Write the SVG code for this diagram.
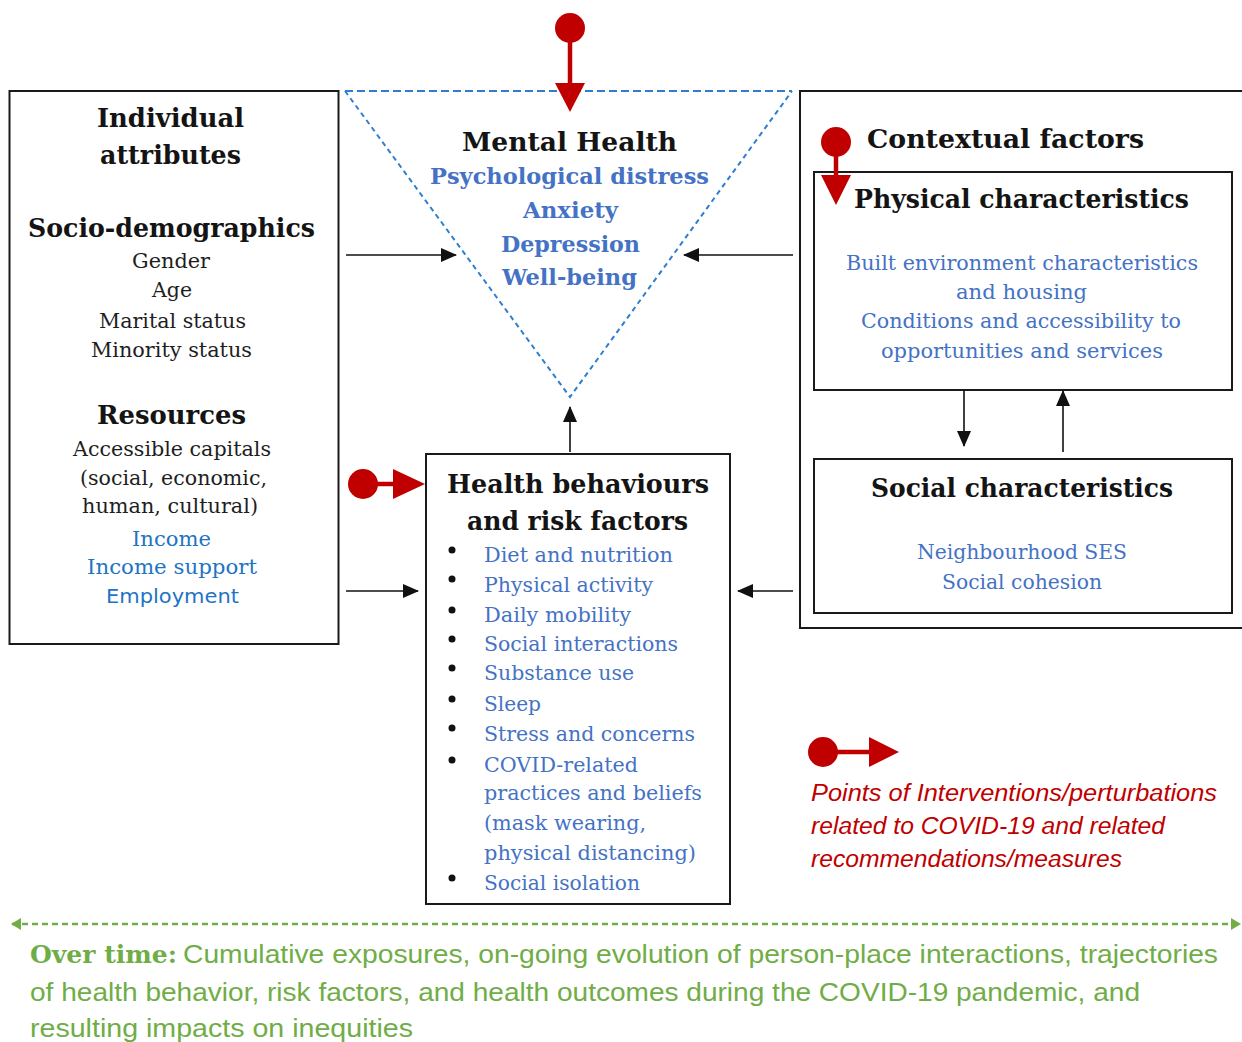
<svg xmlns="http://www.w3.org/2000/svg" width="1242" height="1042" viewBox="0 0 1242 1042">
<style>
.box{fill:none;stroke:#1a1a1a;stroke-width:2}
.h{font-family:"DejaVu Serif",serif;font-weight:bold;font-size:26px;fill:#141414}
.r{font-family:"DejaVu Serif",serif;font-size:21px;fill:#1e1e1e}
.rb{font-family:"DejaVu Serif",serif;font-size:21px;fill:#4472C4}
.bb{font-family:"DejaVu Serif",serif;font-weight:bold;font-size:23px;fill:#4472C4}
.ib{font-family:"DejaVu Serif",serif;font-size:21px;fill:#1E74C4}
.is{font-family:"DejaVu Sans",sans-serif;font-size:20px;fill:#1E74C4}
.leg{font-family:"Liberation Sans",sans-serif;font-style:italic;font-size:23px;fill:#C00000}
.gs{font-family:"Liberation Sans",sans-serif;font-size:26px;fill:#70AD47}
.gb{font-family:"DejaVu Serif",serif;font-weight:bold;font-size:25px;fill:#70AD47}
.conn{stroke:#111;stroke-width:1.6;fill:none}
.pin{fill:#C00000;stroke:none}
.pinl{stroke:#C00000;stroke-width:4.5}
.dot{fill:#111}
</style>
<defs>
<marker id="ah" markerUnits="userSpaceOnUse" markerWidth="16" markerHeight="14" refX="15" refY="7" orient="auto">
<path d="M0,0 L16,7 L0,14 Z" fill="#111"/>
</marker>
<marker id="gah" markerUnits="userSpaceOnUse" markerWidth="10" markerHeight="12" refX="9" refY="6" orient="auto-start-reverse">
<path d="M0,0 L10,6 L0,12 Z" fill="#70AD47"/>
</marker>
</defs>
<rect width="1242" height="1042" fill="#ffffff"/>

<g id="individual-attributes">
<rect class="box" x="9.5" y="91" width="329" height="553"/>
<text class="h" x="97" y="127" textLength="147" lengthAdjust="spacingAndGlyphs">Individual</text>
<text class="h" x="100" y="164" textLength="141" lengthAdjust="spacingAndGlyphs">attributes</text>
<text class="h" x="28" y="237" textLength="287" lengthAdjust="spacingAndGlyphs">Socio-demographics</text>
<text class="r" x="132" y="268" textLength="78" lengthAdjust="spacingAndGlyphs">Gender</text>
<text class="r" x="152" y="297" textLength="40" lengthAdjust="spacingAndGlyphs">Age</text>
<text class="r" x="99" y="328" textLength="147" lengthAdjust="spacingAndGlyphs">Marital status</text>
<text class="r" x="91" y="357" textLength="161" lengthAdjust="spacingAndGlyphs">Minority status</text>
<text class="h" x="97" y="424" textLength="149" lengthAdjust="spacingAndGlyphs">Resources</text>
<text class="r" x="73" y="456" textLength="198" lengthAdjust="spacingAndGlyphs">Accessible  capitals</text>
<text class="r" x="80" y="485" textLength="187" lengthAdjust="spacingAndGlyphs">(social, economic,</text>
<text class="r" x="82" y="513" textLength="176" lengthAdjust="spacingAndGlyphs">human, cultural)</text>
<text class="ib" x="132" y="546" textLength="79" lengthAdjust="spacingAndGlyphs">Income</text>
<text class="ib" x="87" y="574" textLength="170" lengthAdjust="spacingAndGlyphs">Income support</text>
<text class="is" x="106" y="603" textLength="133" lengthAdjust="spacingAndGlyphs">Employment</text>
</g>

<g id="mental-health">
<path d="M345,91 H792" fill="none" stroke="#2E7DD1" stroke-width="2" stroke-dasharray="8,4"/>
<path d="M345,91 L570,397 L792,91" fill="none" stroke="#2E7DD1" stroke-width="2" stroke-dasharray="5,4"/>
<text class="h" x="462" y="151" textLength="215" lengthAdjust="spacingAndGlyphs">Mental Health</text>
<text class="bb" x="430" y="184" textLength="279" lengthAdjust="spacingAndGlyphs">Psychological  distress</text>
<text class="bb" x="523" y="218" textLength="95" lengthAdjust="spacingAndGlyphs">Anxiety</text>
<text class="bb" x="501" y="252" textLength="139" lengthAdjust="spacingAndGlyphs">Depression</text>
<text class="bb" x="502" y="285" textLength="135" lengthAdjust="spacingAndGlyphs">Well-being</text>
</g>

<g id="health-behaviours">
<rect class="box" x="426" y="454" width="304" height="450"/>
<text class="h" x="447" y="493" textLength="262" lengthAdjust="spacingAndGlyphs">Health behaviours</text>
<text class="h" x="467" y="530" textLength="221" lengthAdjust="spacingAndGlyphs">and risk factors</text>
<circle class="dot" cx="452" cy="550" r="3.5"/>
<circle class="dot" cx="452" cy="579" r="3.5"/>
<circle class="dot" cx="452" cy="610" r="3.5"/>
<circle class="dot" cx="452" cy="639" r="3.5"/>
<circle class="dot" cx="452" cy="668" r="3.5"/>
<circle class="dot" cx="452" cy="699" r="3.5"/>
<circle class="dot" cx="452" cy="728" r="3.5"/>
<circle class="dot" cx="452" cy="760" r="3.5"/>
<circle class="dot" cx="452" cy="878" r="3.5"/>
<text class="rb" x="484" y="562" textLength="189" lengthAdjust="spacingAndGlyphs">Diet and nutrition</text>
<text class="rb" x="484" y="592" textLength="169" lengthAdjust="spacingAndGlyphs">Physical activity</text>
<text class="rb" x="484" y="622" textLength="147" lengthAdjust="spacingAndGlyphs">Daily mobility</text>
<text class="rb" x="484" y="651" textLength="194" lengthAdjust="spacingAndGlyphs">Social  interactions</text>
<text class="rb" x="484" y="680" textLength="150" lengthAdjust="spacingAndGlyphs">Substance use</text>
<text class="rb" x="484" y="711" textLength="57" lengthAdjust="spacingAndGlyphs">Sleep</text>
<text class="rb" x="484" y="741" textLength="211" lengthAdjust="spacingAndGlyphs">Stress and concerns</text>
<text class="rb" x="484" y="772" textLength="154" lengthAdjust="spacingAndGlyphs">COVID-related</text>
<text class="rb" x="484" y="800" textLength="218" lengthAdjust="spacingAndGlyphs">practices and beliefs</text>
<text class="rb" x="484" y="830" textLength="162" lengthAdjust="spacingAndGlyphs">(mask wearing,</text>
<text class="rb" x="484" y="860" textLength="212" lengthAdjust="spacingAndGlyphs">physical distancing)</text>
<text class="rb" x="484" y="890" textLength="156" lengthAdjust="spacingAndGlyphs">Social  isolation</text>
</g>

<g id="contextual-factors">
<path class="box" d="M1244,91 H800 V628 H1244"/>
<text class="h" x="867" y="148" textLength="277" lengthAdjust="spacingAndGlyphs">Contextual factors</text>
</g>

<g id="physical-characteristics">
<rect class="box" x="814" y="172" width="418" height="218"/>
<text class="h" x="854" y="208" textLength="335" lengthAdjust="spacingAndGlyphs">Physical characteristics</text>
<text class="rb" x="846" y="270" textLength="352" lengthAdjust="spacingAndGlyphs">Built environment characteristics</text>
<text class="rb" x="956" y="299" textLength="131" lengthAdjust="spacingAndGlyphs">and housing</text>
<text class="rb" x="861" y="328" textLength="320" lengthAdjust="spacingAndGlyphs">Conditions and accessibility  to</text>
<text class="rb" x="881" y="358" textLength="282" lengthAdjust="spacingAndGlyphs">opportunities and services</text>
</g>

<g id="social-characteristics">
<rect class="box" x="814" y="459" width="418" height="154"/>
<text class="h" x="871" y="497" textLength="302" lengthAdjust="spacingAndGlyphs">Social characteristics</text>
<text class="rb" x="917" y="559" textLength="210" lengthAdjust="spacingAndGlyphs">Neighbourhood SES</text>
<text class="rb" x="942" y="589" textLength="160" lengthAdjust="spacingAndGlyphs">Social  cohesion</text>
</g>

<g id="connectors">
<line class="conn" x1="346" y1="255" x2="456" y2="255" marker-end="url(#ah)"/>
<line class="conn" x1="793" y1="255" x2="684" y2="255" marker-end="url(#ah)"/>
<line class="conn" x1="570" y1="452" x2="570" y2="407" marker-end="url(#ah)"/>
<line class="conn" x1="346" y1="591" x2="418" y2="591" marker-end="url(#ah)"/>
<line class="conn" x1="793" y1="591" x2="738" y2="591" marker-end="url(#ah)"/>
<line class="conn" x1="964" y1="390" x2="964" y2="446" marker-end="url(#ah)"/>
<line class="conn" x1="1063" y1="452" x2="1063" y2="391" marker-end="url(#ah)"/>
<line x1="12" y1="924" x2="1240" y2="924" stroke="#70AD47" stroke-width="2.5" stroke-dasharray="6,4" marker-start="url(#gah)" marker-end="url(#gah)"/>
</g>

<g id="intervention-top">
<circle class="pin" cx="570" cy="28" r="15"/>
<line class="pinl" x1="570" y1="30" x2="570" y2="86"/>
<path class="pin" d="M555,83 L585,83 L570,112 Z"/>
</g>
<g id="intervention-contextual">
<circle class="pin" cx="836" cy="142" r="15"/>
<line class="pinl" x1="836" y1="144" x2="836" y2="178"/>
<path class="pin" d="M821,175 L851,175 L836,205 Z"/>
</g>
<g id="intervention-behaviours">
<circle class="pin" cx="363" cy="484" r="15"/>
<line class="pinl" x1="365" y1="484" x2="396" y2="484"/>
<path class="pin" d="M393,469 L393,499 L425,484 Z"/>
</g>

<g id="legend">
<circle class="pin" cx="823" cy="752" r="15"/>
<line class="pinl" x1="825" y1="752" x2="872" y2="752"/>
<path class="pin" d="M869,737 L869,767 L899,752 Z"/>
<text class="leg" x="811" y="801" textLength="406" lengthAdjust="spacingAndGlyphs">Points of Interventions/perturbations</text>
<text class="leg" x="811" y="834" textLength="354" lengthAdjust="spacingAndGlyphs">related  to  COVID-19 and related</text>
<text class="leg" x="811" y="867" textLength="311" lengthAdjust="spacingAndGlyphs">recommendations/measures</text>
</g>

<g id="over-time">
<text class="gb" x="30" y="963" textLength="147" lengthAdjust="spacingAndGlyphs">Over time:</text>
<text class="gs" x="183" y="963" textLength="1035" lengthAdjust="spacingAndGlyphs">Cumulative exposures, on-going evolution of person-place interactions, trajectories</text>
<text class="gs" x="30" y="1001" textLength="1110" lengthAdjust="spacingAndGlyphs">of health behavior, risk factors, and health outcomes during the COVID-19 pandemic, and</text>
<text class="gs" x="30" y="1037" textLength="383" lengthAdjust="spacingAndGlyphs">resulting impacts on inequities</text>
</g>
</svg>
